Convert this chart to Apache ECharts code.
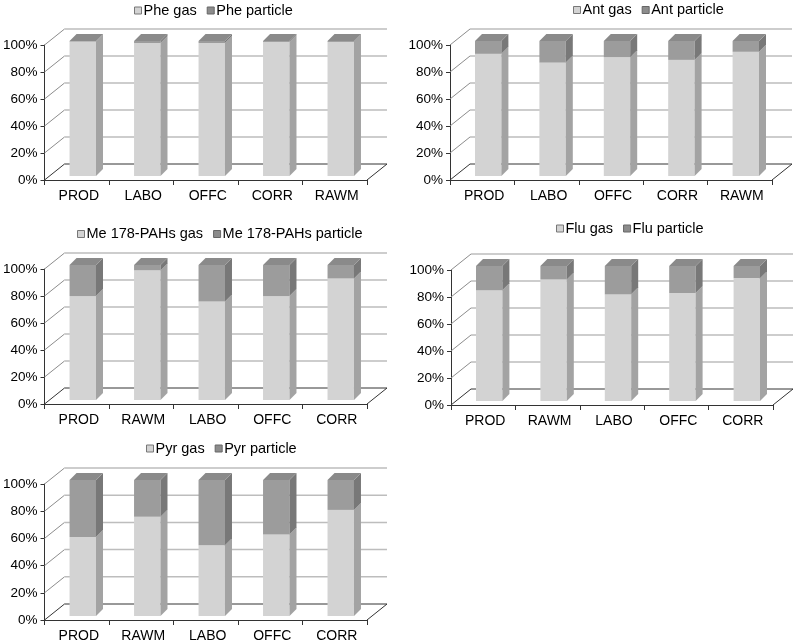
<!DOCTYPE html>
<html><head><meta charset="utf-8">
<script src="https://cdn.jsdelivr.net/npm/echarts@6/dist/echarts.min.js"></script>
<style>html,body{margin:0;padding:0;background:#fff}#c{width:796px;height:643px}</style>
</head><body><div id="c"></div>
<script>
// ---- data ----
const categoriesA = ['PROD', 'LABO', 'OFFC', 'CORR', 'RAWM'];
const categoriesB = ['PROD', 'RAWM', 'LABO', 'OFFC', 'CORR'];
const yTicks = [0, 20, 40, 60, 80, 100];
const pheGas = [99.5, 98.5, 98.5, 99.3, 99.3];
const phePart = [0.5, 1.5, 1.5, 0.7, 0.7];
const antGas = [90.5, 84, 88, 86, 92];
const antPart = [9.5, 16, 12, 14, 8];
const meGas = [77, 96, 73, 77, 90];
const mePart = [23, 4, 27, 23, 10];
const fluGas = [82, 90, 79, 80, 91];
const fluPart = [18, 10, 21, 20, 9];
const pyrGas = [58, 73, 52, 60, 78];
const pyrPart = [42, 27, 48, 40, 22];

const panels = [
  { gasName: 'Phe gas', partName: 'Phe particle', cats: categoriesA, gas: pheGas, part: phePart },
  { gasName: 'Ant gas', partName: 'Ant particle', cats: categoriesA, gas: antGas, part: antPart },
  { gasName: 'Me 178-PAHs gas', partName: 'Me 178-PAHs particle', cats: categoriesB, gas: meGas, part: mePart },
  { gasName: 'Flu gas', partName: 'Flu particle', cats: categoriesB, gas: fluGas, part: fluPart },
  { gasName: 'Pyr gas', partName: 'Pyr particle', cats: categoriesB, gas: pyrGas, part: pyrPart }
];

// ---- layout / style ----
const layout = [
  { grid: { left: 43, top: 45, width: 324, height: 135 }, legend: { left: 134, top: 3 } },
  { grid: { left: 450, top: 45, width: 322, height: 135 }, legend: { left: 573, top: 2.5 } },
  { grid: { left: 43, top: 269, width: 324, height: 135 }, legend: { left: 77, top: 226.5 } },
  { grid: { left: 451, top: 270, width: 322, height: 135 }, legend: { left: 556, top: 221 } },
  { grid: { left: 43, top: 484, width: 324, height: 136 }, legend: { left: 146, top: 441 } }
];
const FONT = 'Liberation Sans, Arial, sans-serif';
const DX = 20, DY = -16;      // wall depth
const OX = 6, OY = -4;        // bar front offset from front plane
const BDX = 7, BDY = -7;      // bar depth
const BW = 0.41;              // bar width ratio
const gasColors = { front: '#d3d3d3', side: '#a3a3a3', top: '#bdbdbd' };
const partColors = { front: '#9c9c9c', side: '#787878', top: '#8a8a8a' };

function renderWalls(params, api) {
  const cs = params.coordSys;
  const v = api.value(1);
  const y = api.coord([0, v])[1];
  const dark = v === 0;
  const children = [
    { type: 'line', shape: { x1: cs.x, y1: y, x2: cs.x + DX, y2: y + DY },
      style: { stroke: dark ? '#333' : '#8c8c8c', lineWidth: 1 } },
    { type: 'line', shape: { x1: cs.x + DX, y1: y + DY, x2: cs.x + cs.width + DX, y2: y + DY },
      style: { stroke: dark ? '#333' : '#bdbdbd', lineWidth: dark ? 1 : 1.5 } }
  ];
  if (dark) {
    children.push({ type: 'line', shape: { x1: cs.x + cs.width, y1: y, x2: cs.x + cs.width + DX, y2: y + DY },
      style: { stroke: '#333', lineWidth: 1 } });
  }
  return { type: 'group', children };
}

function makeBarRenderer(colors, drawTop) {
  return function (params, api) {
    const i = api.value(0), s = api.value(1), e = api.value(2);
    const pS = api.coord([i, s]);
    const pE = api.coord([i, e]);
    const w = api.size([1, 0])[0] * BW;
    const x = pS[0] - w / 2 + OX;
    const yb = pS[1] + OY, yt = pE[1] + OY;
    const children = [
      { type: 'rect', shape: { x: x, y: yt, width: w, height: yb - yt }, style: { fill: colors.front } },
      { type: 'polygon', shape: { points: [[x + w, yt], [x + w + BDX, yt + BDY], [x + w + BDX, yb + BDY], [x + w, yb]] },
        style: { fill: colors.side } }
    ];
    if (drawTop) {
      children.push({ type: 'polygon', shape: { points: [[x, yt], [x + BDX, yt + BDY], [x + w + BDX, yt + BDY], [x + w, yt]] },
        style: { fill: colors.top } });
    }
    return { type: 'group', children };
  };
}

const grid = [], xAxis = [], yAxis = [], series = [], legend = [];
panels.forEach((p, k) => {
  const L = layout[k];
  grid.push(Object.assign({ containLabel: false }, L.grid));
  xAxis.push({
    type: 'category', gridIndex: k, data: p.cats, boundaryGap: true,
    axisLine: { show: true, lineStyle: { color: '#333', width: 1 } },
    axisTick: { show: true, length: 5, lineStyle: { color: '#333' } },
    axisLabel: { fontSize: 14, color: '#000', fontFamily: FONT, margin: 9, padding: [0, 0, 0, 4] },
    splitLine: { show: false }
  });
  yAxis.push({
    type: 'value', gridIndex: k, min: 0, max: 100, interval: 20,
    axisLine: { show: true, lineStyle: { color: '#333', width: 1 } },
    axisTick: { show: true, length: 4, lineStyle: { color: '#333' } },
    axisLabel: { formatter: '{value}%', fontSize: 13.5, color: '#000', fontFamily: FONT, margin: 7 },
    splitLine: { show: false }
  });
  series.push({
    type: 'custom', name: '_walls' + k, xAxisIndex: k, yAxisIndex: k, z: 1,
    renderItem: renderWalls, data: yTicks.map(v => [0, v]), silent: true
  });
  series.push({
    type: 'custom', name: p.gasName, xAxisIndex: k, yAxisIndex: k, z: 2,
    itemStyle: { color: gasColors.front },
    renderItem: makeBarRenderer(gasColors, false),
    encode: { x: 0, y: [1, 2] },
    data: p.gas.map((g, i) => [i, 0, g])
  });
  series.push({
    type: 'custom', name: p.partName, xAxisIndex: k, yAxisIndex: k, z: 3,
    itemStyle: { color: partColors.front },
    renderItem: makeBarRenderer(partColors, true),
    encode: { x: 0, y: [1, 2] },
    data: p.part.map((v, i) => [i, p.gas[i], p.gas[i] + v])
  });
  legend.push({
    left: L.legend.left, top: L.legend.top, padding: 0,
    itemWidth: 7, itemHeight: 7, itemGap: 10, icon: 'rect',
    textStyle: { fontSize: 14.5, color: '#000', fontFamily: FONT, padding: [0, 0, 0, -3] },
    data: [
      { name: p.gasName, itemStyle: { color: '#d3d3d3', borderColor: '#777', borderWidth: 1 } },
      { name: p.partName, itemStyle: { color: '#8c8c8c', borderColor: '#666', borderWidth: 1 } }
    ],
    selectedMode: false
  });
});

const chart = echarts.init(document.getElementById('c'), null, { renderer: 'canvas' });
chart.setOption({
  backgroundColor: '#fff',
  animation: false,
  grid, xAxis, yAxis, series, legend
});
</script>
</body></html>
